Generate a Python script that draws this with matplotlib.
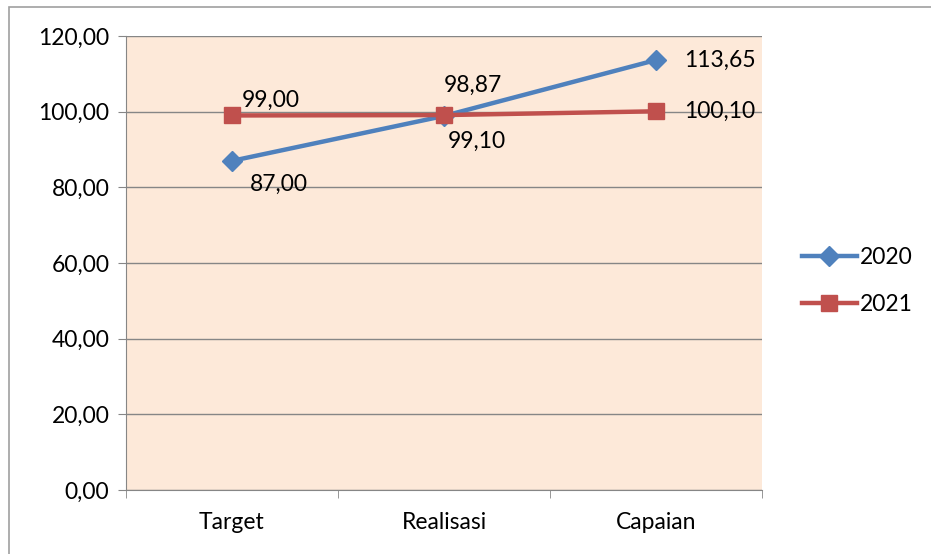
import matplotlib.pyplot as plt
from matplotlib.ticker import FuncFormatter
from matplotlib.patches import Rectangle

categories = ['Target', 'Realisasi', 'Capaian']
values_2020 = [87.00, 98.87, 113.65]
values_2021 = [99.00, 99.10, 100.10]
y_ticks = [0, 20, 40, 60, 80, 100, 120]

plt.rcParams['font.family'] = ['Lato', 'DejaVu Sans']
fs = 16.5

fig = plt.figure(figsize=(9.31, 5.54), dpi=100)
ax = fig.add_axes([0.1353, 0.1155, 0.6832, 0.8195])
ax.set_facecolor('#FDE9D9')

x = list(range(len(categories)))
ax.plot(x, values_2020, color='#4F81BD', lw=3.2, marker='D', ms=10, label='2020', zorder=3)
ax.plot(x, values_2021, color='#C0504D', lw=3.2, marker='s', ms=12, label='2021', zorder=3)

ax.set_xlim(-0.5, 2.5)
ax.set_ylim(0, 120)
ax.set_yticks(y_ticks)
ax.yaxis.set_major_formatter(FuncFormatter(lambda v, p: f'{v:.2f}'.replace('.', ',')))
ax.set_xticks(x)
ax.set_xticklabels(categories)
ax.set_xticks([-0.5, 0.5, 1.5, 2.5], minor=True)
ax.tick_params(axis='x', which='major', length=0, pad=16, labelsize=fs)
ax.tick_params(axis='x', which='minor', length=6, color='#868686')
ax.tick_params(axis='y', length=6, color='#868686', labelsize=fs, pad=6)
ax.grid(axis='y', color='#868686', lw=1)
ax.set_axisbelow(True)
for s in ['top', 'right']:
    ax.spines[s].set_visible(False)
for s in ['left', 'bottom']:
    ax.spines[s].set_color('#868686')

fmt = lambda v: f'{v:.2f}'.replace('.', ',')
# offsets of the data labels, in points
offs_2020 = [(13, -17), (0, 22), (20, 0)]
offs_2021 = [(7, 11), (3, -19), (20, 0)]
for vals, offs in [(values_2020, offs_2020), (values_2021, offs_2021)]:
    for xi, v, (dx, dy) in zip(x, vals, offs):
        ax.annotate(fmt(v), (xi, v), xytext=(dx, dy), textcoords='offset points',
                    ha='left', va='center', fontsize=fs, zorder=4)

ax.legend(loc='center left', bbox_to_anchor=(1.03, 0.46), frameon=False,
          fontsize=fs, handlelength=2.4, handletextpad=0.15, labelspacing=1.15)

fig.patches.append(Rectangle((0.01, -0.05), 1.2, 1.037, transform=fig.transFigure,
                             fill=False, edgecolor='#A0A0A0', lw=1.2))

fig.savefig('out.png', dpi=100)
